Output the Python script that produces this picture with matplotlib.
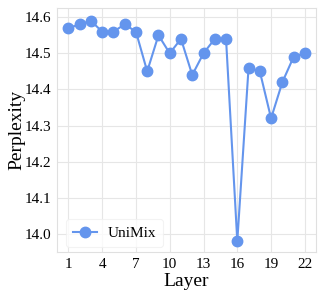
import matplotlib
matplotlib.use("Agg")
import matplotlib.pyplot as plt

layers = list(range(1, 23))
perplexity = [14.57, 14.58, 14.59, 14.56, 14.56, 14.58, 14.56, 14.45, 14.55, 14.50,
              14.54, 14.44, 14.50, 14.54, 14.54, 13.98, 14.46, 14.45, 14.32, 14.42,
              14.49, 14.50]
xticks = [1, 4, 7, 10, 13, 16, 19, 22]
yticks = [14.0, 14.1, 14.2, 14.3, 14.4, 14.5, 14.6]

plt.rcParams["font.family"] = ["Liberation Serif", "DejaVu Serif"]

fig = plt.figure(figsize=(3.19, 2.91), dpi=100)
ax = fig.add_axes([0.179, 0.134, 0.812, 0.838])

ax.plot(layers, perplexity, color="#6495ED", marker="o", markersize=7.5,
        linewidth=1.5, label="UniMix", zorder=3)

ax.set_xlim(0.0, 23.0)
ax.set_ylim(13.95, 14.625)
ax.set_xticks(xticks)
ax.set_yticks(yticks)
ax.set_yticklabels([f"{v:.1f}" for v in yticks])
ax.tick_params(length=0, labelsize=11, pad=4)
ax.grid(True, color="#e6e6e6", linewidth=0.8)
ax.set_axisbelow(True)
for s in ax.spines.values():
    s.set_color("#e0e0e0")
    s.set_linewidth(0.8)

ax.set_xlabel("Layer", fontsize=14, labelpad=2)
ax.set_ylabel("Perplexity", fontsize=14, labelpad=0)

leg = ax.legend(loc="lower left", fontsize=11, frameon=True, borderpad=0.45,
                handlelength=1.6, handletextpad=0.7, bbox_to_anchor=(0.005, -0.01))
leg.get_frame().set_edgecolor("#f0f0f0")
leg.get_frame().set_linewidth(0.8)

fig.savefig("out.png", dpi=100)
